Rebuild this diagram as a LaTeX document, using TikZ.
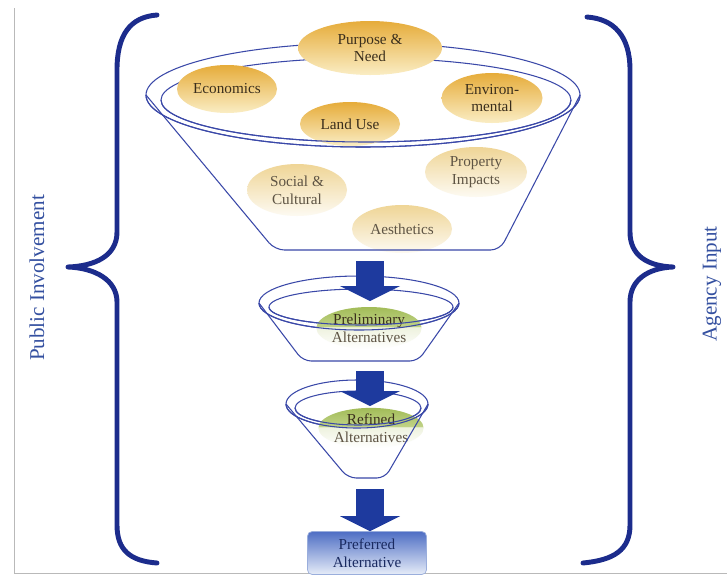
\documentclass[tikz,border=0pt]{standalone}
\usepackage{fontspec}
\setmainfont{Liberation Serif}
\usetikzlibrary{arrows.meta,shapes.geometric}
\definecolor{bracec}{HTML}{1C2C8C}
\definecolor{rimc}{HTML}{3A48A8}
\definecolor{arrowblue}{HTML}{1E3A9E}
\definecolor{goldtop}{HTML}{E6AC3A}
\definecolor{goldbot}{HTML}{FAEDC4}
\definecolor{fadetop}{HTML}{EFD596}
\definecolor{fadebot}{HTML}{FDFAF2}
\definecolor{greentop}{HTML}{A2BC58}
\definecolor{greenmid}{HTML}{C0D286}
\definecolor{greenpale}{HTML}{EEF2DE}
\definecolor{txtbrown}{HTML}{3A2E1C}
\definecolor{txtfade}{HTML}{5E5444}
\definecolor{labelblue}{HTML}{3450A0}
\definecolor{boxtop}{HTML}{4E6EC4}
\definecolor{boxbot}{HTML}{E6ECF8}
\definecolor{boxline}{HTML}{9AAEDC}
\definecolor{boxtext}{HTML}{1A2A60}
\pgfdeclareverticalshading{greenfade}{100bp}{color(0bp)=(white); color(25bp)=(white); color(51bp)=(greenpale); color(52bp)=(greenmid); color(75bp)=(greentop); color(100bp)=(greentop)}
\begin{document}
\begin{tikzpicture}[x=0.03cm,y=-0.03cm,
  brace/.style={draw=bracec, line width=4.2pt, line cap=round, line join=round},
  rimline/.style={draw=rimc, line width=0.9pt},
  ellbase/.style={ellipse, inner sep=0pt, align=center, font=\fontsize{13}{15}\selectfont},
  goldell/.style={ellbase, top color=goldtop, bottom color=goldbot, text=txtbrown},
  fadeell/.style={ellbase, top color=fadetop, bottom color=fadebot, text=txtfade},
  greenell/.style={ellbase, shading=greenfade, text=txtbrown},
  sidelabel/.style={rotate=90, text=labelblue, font=\fontsize{18}{20}\selectfont},
  bigarrow/.style={draw=arrowblue, line width=0.84cm, -{Triangle[width=1.8cm,length=0.45cm,line width=0pt]}},
  prefbox/.style={rounded corners=4pt, top color=boxtop, bottom color=boxbot, draw=boxline, line width=0.6pt, text=boxtext, align=center, font=\fontsize{13}{15}\selectfont, minimum width=3.57cm, minimum height=1.29cm}
]
\fill[white] (0,0) rectangle (727,576);
\useasboundingbox (0,0) rectangle (727,576);
\draw[gray!55, line width=0.6pt] (14,8) -- (14,573) -- (727,573);

% side labels
\node[sidelabel] (pub) at (37,278) {Public Involvement};
\node[sidelabel] (agency) at (712,284) {Agency Input};

% braces
\draw[brace] (157,15) .. controls (130,17) and (117,35) .. (117,70) -- (117,232)
  .. controls (117,256) and (95,266) .. (68,267)
  .. controls (95,268) and (117,280) .. (117,302) -- (117,525)
  .. controls (117,550) and (130,561) .. (157,563);
\draw[brace] (587,17) .. controls (614,19) and (630,36) .. (630,70) -- (630,232)
  .. controls (630,256) and (648,266) .. (673,267)
  .. controls (648,268) and (630,280) .. (630,302) -- (630,525)
  .. controls (630,550) and (614,560) .. (583,563);

% ---------- funnel 1 ----------
\fill[white] (363,95) ellipse [x radius=217, y radius=52];
\draw[rimline] (363,95) ellipse [x radius=217, y radius=52];
\draw[rimline] (366,100) ellipse [x radius=205, y radius=42];
\node[goldell, minimum width=4.32cm, minimum height=1.62cm] (purpose) at (370,48) {Purpose \&\\Need};
\node[goldell, minimum width=3cm, minimum height=1.44cm] (econ) at (227,89) {Economics};
\node[goldell, minimum width=3.03cm, minimum height=1.5cm] (env) at (492,98) {Environ-\\mental};
\node[goldell, minimum width=3cm, minimum height=1.32cm] (land) at (350,124) {Land Use};
\node[fadeell, minimum width=3cm, minimum height=1.56cm] (social) at (297,190) {Social \&\\Cultural};
\node[fadeell, minimum width=3.06cm, minimum height=1.5cm] (property) at (476,172) {Property\\Impacts};
\node[fadeell, minimum width=3cm, minimum height=1.44cm] (aesth) at (402,229) {Aesthetics};
\draw[rimline] (146,95) arc [start angle=180, end angle=0, x radius=217, y radius=52];
\draw[rimline] (161,100) arc [start angle=180, end angle=0, x radius=205, y radius=42];
\draw[rimline, rounded corners=8pt] (146,95) -- (275,250) -- (500,250) -- (580,95);
\coordinate (f1b) at (370,261);

% ---------- funnel 2 ----------
\fill[white] (359,303) ellipse [x radius=100, y radius=27];
\draw[rimline] (359,303) ellipse [x radius=100, y radius=27];
\draw[rimline] (361,307) ellipse [x radius=92, y radius=18];
\node[greenell, minimum width=3.06cm, minimum height=1.26cm] (prelim) at (369,328) {Preliminary\\\textcolor{txtfade}{Alternatives}};
\draw[rimline] (259,303) arc [start angle=180, end angle=0, x radius=100, y radius=27];
\draw[rimline] (269,307) arc [start angle=180, end angle=0, x radius=92, y radius=18];
\draw[rimline, rounded corners=7pt] (259,303) -- (303,361) -- (418,361) -- (459,303);
\coordinate (f2t) at (370,301);
\coordinate (f2b) at (370,371);

% ---------- funnel 3 ----------
\fill[white] (357,404) ellipse [x radius=71, y radius=24];
\draw[rimline] (357,404) ellipse [x radius=71, y radius=24];
\draw[rimline] (358,408) ellipse [x radius=63, y radius=17];
\node[greenell, minimum width=2.88cm, minimum height=1.2cm] (refined) at (371,428) {Refined\\\textcolor{txtfade}{Alternatives}};
\draw[rimline] (286,404) arc [start angle=180, end angle=0, x radius=71, y radius=24];
\draw[rimline] (295,408) arc [start angle=180, end angle=0, x radius=63, y radius=17];
\draw[rimline, rounded corners=7pt] (286,404) -- (348,478) -- (385,478) -- (428,404);
\coordinate (f3t) at (370,406);
\coordinate (f3b) at (370,489);

% ---------- preferred ----------
\node[prefbox] (pref) at (367,553) {Preferred\\Alternative};

% ---------- arrows ----------
\draw[bigarrow] (f1b) -- (f2t);
\draw[bigarrow] (f2b) -- (f3t);
\draw[bigarrow] (f3b) -- (f3b |- pref.north);
\end{tikzpicture}
\end{document}
